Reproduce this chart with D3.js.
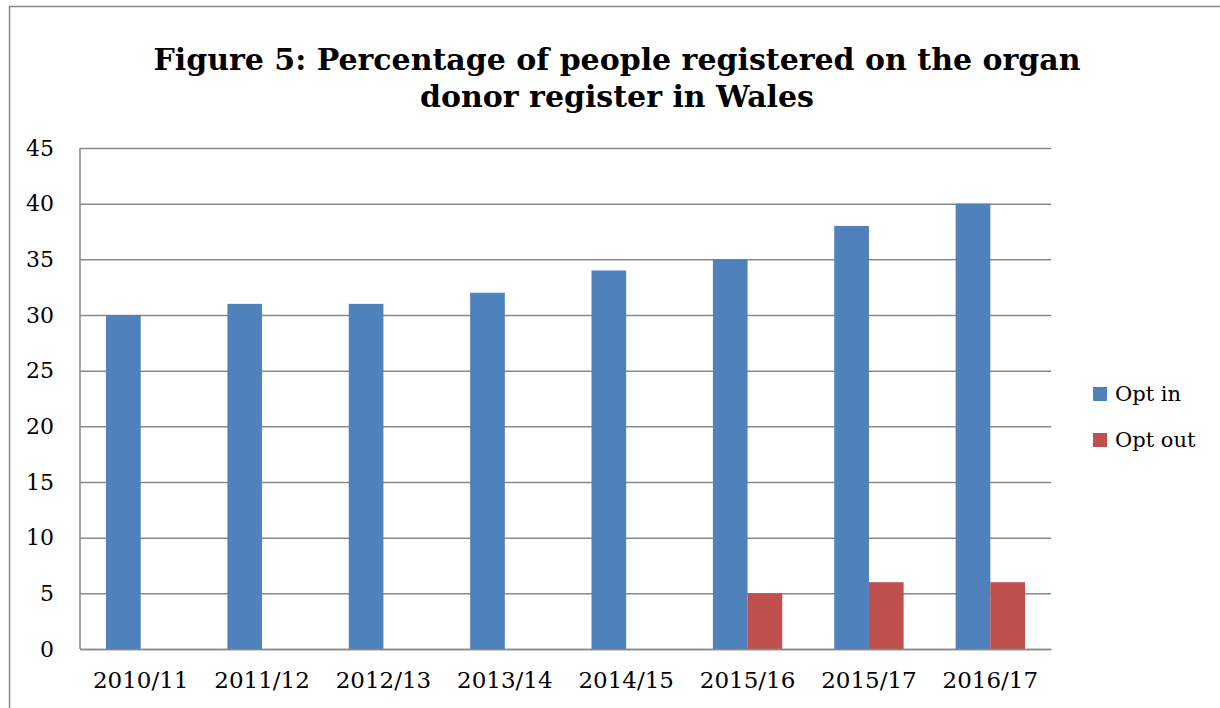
<!DOCTYPE html>
<html><head><meta charset="utf-8">
<script src="https://cdn.jsdelivr.net/npm/d3@7"></script>
<style>html,body{margin:0;padding:0;background:#fff;}svg{display:block;}</style>
</head><body>
<svg id="chart" width="1220" height="708"></svg>
<script>
const categories = ["2010/11","2011/12","2012/13","2013/14","2014/15","2015/16","2015/17","2016/17"];
const optIn  = [30,31,31,32,34,35,38,40];
const optOut = [null,null,null,null,null,5,6,6];
const seriesNames = ["Opt in","Opt out"];
const seriesColors = ["#4F81BD","#C0504D"];
const yTicks = [0,5,10,15,20,25,30,35,40,45];
const titleLines = ["Figure 5: Percentage of people registered on the organ","donor register in Wales"];

const svg = d3.select("#chart");
const font = "'DejaVu Serif', serif";
const plot = {left:80, right:1051, top:148, bottom:649};

svg.append("rect").attr("x",9.5).attr("y",6.5).attr("width",1240).attr("height",760)
  .attr("fill","#fff").attr("stroke","#8a8a8a").attr("stroke-width",1.5);

const x0 = d3.scaleBand().domain(categories).range([plot.left, plot.right]).paddingInner(0).paddingOuter(0);
const gap = 1.5;
const bw = x0.bandwidth()/(2+gap);
const x1 = d3.scaleBand().domain(seriesNames).range([bw*gap/2, bw*gap/2 + 2*bw]).padding(0);
const y = d3.scaleLinear().domain([0,45]).range([plot.bottom, plot.top]);

// gridlines
const yAxis = d3.axisLeft(y).tickValues(yTicks).tickSize(-(plot.right-plot.left)).tickFormat(d=>d).tickPadding(26);
const gy = svg.append("g").attr("transform",`translate(${plot.left},0)`).call(yAxis);
gy.select(".domain").remove();
gy.selectAll(".tick line").attr("stroke","#8a8a8a").attr("stroke-width",1.5);
gy.selectAll(".tick text").attr("font-family",font).attr("font-size",22).attr("fill","#000");

// left axis line
svg.append("line").attr("x1",plot.left).attr("x2",plot.left).attr("y1",plot.top).attr("y2",plot.bottom)
  .attr("stroke","#8a8a8a").attr("stroke-width",1.5);

// bars
const rows = categories.map((c,i)=>({cat:c, vals:[optIn[i], optOut[i]]}));
const groups = svg.append("g").selectAll("g").data(rows).join("g")
  .attr("transform",d=>`translate(${x0(d.cat)},0)`);
groups.selectAll("rect").data(d=>d.vals.map((v,j)=>({v, s:seriesNames[j], c:seriesColors[j]})).filter(e=>e.v!=null))
  .join("rect")
  .attr("x",e=>x1(e.s)).attr("width",x1.bandwidth())
  .attr("y",e=>y(e.v)).attr("height",e=>y(0)-y(e.v))
  .attr("fill",e=>e.c);

// x axis
const xAxis = d3.axisBottom(x0).tickSize(0).tickPadding(23);
const gx = svg.append("g").attr("transform",`translate(0,${plot.bottom})`).call(xAxis);
gx.select(".domain").attr("stroke","#8a8a8a").attr("stroke-width",1.5);
gx.selectAll(".tick text").attr("font-family",font).attr("font-size",23).attr("fill","#000");

// title
svg.append("g").selectAll("text").data(titleLines).join("text")
  .attr("x",617).attr("y",(d,i)=>70+i*37)
  .attr("text-anchor","middle").attr("font-family",font).attr("font-weight","bold")
  .attr("font-size",30).attr("fill","#000").text(d=>d);

// legend
const lg = svg.append("g").selectAll("g").data(seriesNames).join("g")
  .attr("transform",(d,i)=>`translate(1093,${387+i*46})`);
lg.append("rect").attr("width",14).attr("height",14).attr("fill",(d,i)=>seriesColors[i]);
lg.append("text").attr("x",22).attr("y",7).attr("dy","0.35em").attr("font-family",font)
  .attr("font-size",21).attr("fill","#000").text(d=>d);
</script>
</body></html>
